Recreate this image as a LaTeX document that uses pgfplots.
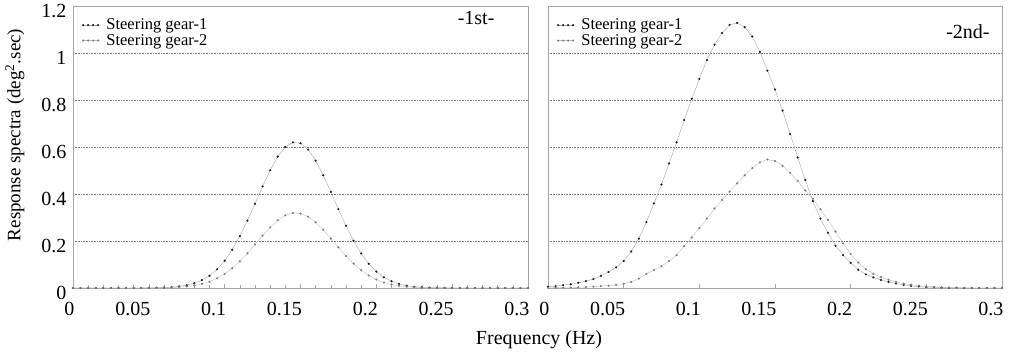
\documentclass[border=0pt]{standalone}
\usepackage{pgfplots}
\pgfplotsset{compat=1.18}
\usepackage{pgfplotstable}
\usepackage{fontspec}
\setmainfont{Liberation Serif}
\definecolor{axgray}{RGB}{165,165,165}
\definecolor{gridgray}{RGB}{120,120,120}
\definecolor{dotone}{RGB}{25,25,25}
\definecolor{dottwo}{RGB}{125,125,125}
\definecolor{lineone}{RGB}{165,165,165}
\definecolor{linetwo}{RGB}{190,190,190}

\pgfplotstableread{
f s1 s2
0 0 0
0.005 0 0
0.01 0 0
0.015 0 0
0.02 0 0
0.025 0 0
0.03 0 0
0.035 0 0
0.04 0 0
0.045 0.0002 0.0001
0.05 0.0005 0.0002
0.055 0.001 0.0005
0.06 0.0019 0.001
0.065 0.0037 0.0019
0.07 0.0067 0.0035
0.075 0.0119 0.0061
0.08 0.0203 0.0105
0.085 0.0333 0.0172
0.09 0.0524 0.027
0.095 0.0795 0.041
0.1 0.1161 0.0598
0.105 0.1631 0.084
0.11 0.2205 0.1136
0.115 0.2868 0.1478
0.12 0.3589 0.185
0.125 0.4323 0.2228
0.13 0.5011 0.2582
0.135 0.559 0.288
0.14 0.6 0.3092
0.145 0.6196 0.3193
0.15 0.6158 0.3173
0.155 0.589 0.3035
0.16 0.542 0.2793
0.165 0.48 0.2474
0.17 0.4091 0.2108
0.175 0.3355 0.1729
0.18 0.2647 0.1364
0.185 0.201 0.1036
0.19 0.1469 0.0757
0.195 0.1033 0.0532
0.2 0.0699 0.036
0.205 0.0455 0.0235
0.21 0.0285 0.0147
0.215 0.0172 0.0089
0.22 0.01 0.0052
0.225 0.0056 0.0029
0.23 0.003 0.0015
0.235 0.0016 0.0008
0.24 0.0007 0.0004
0.245 0.0004 0.0002
0.25 0.0002 0.0001
0.255 0 0
0.26 0 0
0.265 0 0
0.27 0 0
0.275 0 0
0.28 0 0
0.285 0 0
0.29 0 0
0.295 0 0
0.3 0 0
}\firstdata

\pgfplotstableread{
f s1 s2
0 0.005 0.001
0.005 0.008 0.001
0.01 0.012 0.002
0.015 0.016 0.002
0.02 0.022 0.003
0.025 0.029 0.004
0.03 0.038 0.006
0.035 0.052 0.008
0.04 0.068 0.01
0.045 0.088 0.013
0.05 0.115 0.018
0.055 0.155 0.026
0.06 0.21 0.04
0.065 0.28 0.06
0.07 0.36 0.076
0.075 0.44 0.093
0.08 0.53 0.115
0.085 0.62 0.14
0.09 0.715 0.178
0.095 0.805 0.215
0.1 0.89 0.255
0.105 0.97 0.295
0.11 1.035 0.338
0.115 1.085 0.375
0.12 1.12 0.41
0.125 1.128 0.445
0.13 1.11 0.48
0.135 1.07 0.51
0.14 1.005 0.535
0.145 0.925 0.547
0.15 0.845 0.54
0.155 0.755 0.52
0.16 0.655 0.49
0.165 0.555 0.455
0.17 0.46 0.415
0.175 0.37 0.38
0.18 0.295 0.335
0.185 0.235 0.29
0.19 0.18 0.24
0.195 0.14 0.19
0.2 0.107 0.145
0.205 0.078 0.108
0.21 0.058 0.08
0.215 0.045 0.06
0.22 0.034 0.047
0.225 0.026 0.035
0.23 0.019 0.026
0.235 0.013 0.019
0.24 0.009 0.014
0.245 0.006 0.01
0.25 0.004 0.007
0.255 0.003 0.005
0.26 0.002 0.003
0.265 0.001 0.002
0.27 0.001 0.001
0.275 0 0.001
0.28 0 0
0.285 0 0
0.29 0 0
0.295 0 0
0.3 0 0
}\seconddata

\pgfplotsset{
  panel/.style={
    scale only axis, width=455pt, height=282pt,
    xmin=0, xmax=0.3, ymin=0, ymax=1.2,
    xtick={0,0.05,0.1,0.15,0.2,0.25,0.3},
    xticklabels={0,0.05,0.1,0.15,0.2,0.25,0.3},
    ytick={0,0.2,0.4,0.6,0.8,1,1.2},
    axis line style={axgray, line width=0.9pt},
    xtick pos=bottom, ytick pos=left,
    tick align=inside,
    x tick style={axgray, line width=0.6pt},
    ytick style={draw=none},
    major tick length=4pt, minor tick length=2.5pt,
    ymajorgrids,
    grid style={gridgray, dash pattern=on 0.8pt off 0.8pt, line width=0.5pt},
    tick label style={font=\fontsize{20}{24}\selectfont},
    xticklabel style={anchor=north east, xshift=5pt, yshift=-11pt},
    yticklabel style={yshift=-5pt, xshift=-3pt},
    legend style={at={(rel axis cs:0.02,0.955)}, anchor=north west,
      draw=none, fill=none, font=\fontsize{16.5}{20}\selectfont,
      row sep=3pt, inner sep=0pt,
      nodes={inner xsep=1pt, inner ysep=0pt, anchor=west,
        font=\fontsize{16.5}{20}\selectfont}},
    legend cell align=left,
    legend image code/.code={%
      \draw[#1] plot coordinates {(0pt,0pt) (5pt,0pt) (10pt,0pt) (15pt,0pt)};
      \path (22pt,0pt);},
  },
  sone/.style={lineone, line width=0.4pt, mark=*, mark size=0.85pt,
    mark options={draw=dotone, fill=dotone, solid}},
  stwo/.style={linetwo, line width=0.4pt, mark=*, mark size=0.85pt,
    mark options={draw=dottwo, fill=dottwo, solid}},
}

\begin{document}
\begin{tikzpicture}[x=1pt,y=1pt]
\useasboundingbox (0,0) rectangle (1013,352);
\begin{axis}[panel, at={(73pt,64pt)}, anchor=south west,
  minor x tick num=4,
  yticklabels={0,0.2,0.4,0.6,0.8,1,1.2},
  ylabel={Response spectra (deg\textsuperscript{2}.sec)},
  ylabel style={at={(axis description cs:-0.1275,0.543)}, anchor=center,
    font=\fontsize{19}{22}\selectfont}]
\addplot[sone] table[x=f, y=s1] {\firstdata};
\addlegendentry{Steering gear-1}
\addplot[stwo] table[x=f, y=s2] {\firstdata};
\addlegendentry{Steering gear-2}
\node[font=\fontsize{20}{24}\selectfont] at (rel axis cs:0.886,0.957) {-1st-};
\end{axis}
\begin{axis}[panel, at={(548pt,64pt)}, anchor=south west, width=454pt,
  yticklabels={}]
\addplot[sone] table[x=f, y=s1] {\seconddata};
\addlegendentry{Steering gear-1}
\addplot[stwo] table[x=f, y=s2] {\seconddata};
\addlegendentry{Steering gear-2}
\node[font=\fontsize{20}{24}\selectfont] at (rel axis cs:0.925,0.908) {-2nd-};
\end{axis}
\node[font=\fontsize{20}{24}\selectfont] at (539,12) {Frequency (Hz)};
\end{tikzpicture}
\end{document}
